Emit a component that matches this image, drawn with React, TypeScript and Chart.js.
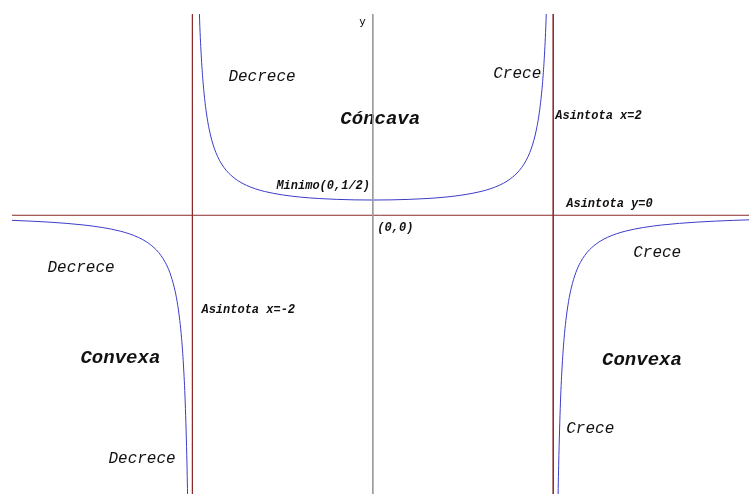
import React, { useEffect, useRef } from "react";
import { Chart, registerables } from "chart.js";

Chart.register(...registerables);

// Central branch (concave), x in (-2, 2)
const centerX = [-1.94, -1.92, -1.9, -1.88, -1.86, -1.84, -1.82, -1.8, -1.77, -1.74, -1.7, -1.65, -1.6, -1.5, -1.4, -1.3, -1.2, -1.0, -0.8, -0.6, -0.4, -0.2, 0, 0.2, 0.4, 0.6, 0.8, 1.0, 1.2, 1.3, 1.4, 1.5, 1.6, 1.65, 1.7, 1.74, 1.77, 1.8, 1.82, 1.84, 1.86, 1.88, 1.9, 1.92, 1.94];
const centerY = [8.46, 6.378, 5.128, 4.296, 3.701, 3.255, 2.909, 2.632, 2.307, 2.057, 1.802, 1.566, 1.389, 1.143, 0.98, 0.866, 0.781, 0.667, 0.595, 0.549, 0.521, 0.505, 0.5, 0.505, 0.521, 0.549, 0.595, 0.667, 0.781, 0.866, 0.98, 1.143, 1.389, 1.566, 1.802, 2.057, 2.307, 2.632, 2.909, 3.255, 3.701, 4.296, 5.128, 6.378, 8.46];

// Left branch (convex), x < -2
const leftX = [-4.0, -3.8, -3.6, -3.4, -3.2, -3.0, -2.9, -2.8, -2.7, -2.6, -2.5, -2.4, -2.35, -2.3, -2.25, -2.2, -2.17, -2.14, -2.12, -2.1, -2.08, -2.06, -2.05, -2.04];
const leftY = [-0.1667, -0.1916, -0.2232, -0.2646, -0.3205, -0.4, -0.4535, -0.5208, -0.6079, -0.7246, -0.8889, -1.136, -1.314, -1.55, -1.882, -2.381, -2.821, -3.451, -4.045, -4.878, -6.127, -8.21, -9.877, -12.38];

// Right branch (convex), x > 2
const rightX = [2.04, 2.05, 2.06, 2.08, 2.1, 2.12, 2.14, 2.17, 2.2, 2.25, 2.3, 2.35, 2.4, 2.5, 2.6, 2.7, 2.8, 2.9, 3.0, 3.2, 3.4, 3.6, 3.8, 4.0, 4.2];
const rightY = [-12.38, -9.877, -8.21, -6.127, -4.878, -4.045, -3.451, -2.821, -2.381, -1.882, -1.55, -1.314, -1.136, -0.8889, -0.7246, -0.6079, -0.5208, -0.4535, -0.4, -0.3205, -0.2646, -0.2232, -0.1916, -0.1667, -0.1466];

// Axis range
const xMin = -4;
const xMax = 4.17;
const yMin = -9.14;
const yMax = 6.6;

// Asymptotes
const verticalAsymptotes = [-2, 2];
const horizontalAsymptote = 0;

// Annotation texts
const labelTexts = ["y", "Decrece", "Crece", "Cóncava", "Asintota x=2", "Minimo(0,1/2)", "(0,0)", "Asintota y=0", "Decrece", "Crece", "Asintota x=-2", "Convexa", "Convexa", "Crece", "Decrece"];
const labelX = [-0.15, -1.601, 1.335, -0.36, 2.022, -1.069, 0.05, 2.144, -3.607, 2.886, -1.9, -3.241, 2.541, 2.144, -2.931];
const labelY = [6.34, 4.534, 4.633, 3.157, 3.256, 0.96, -0.416, 0.37, -1.715, -1.223, -3.12, -4.679, -4.75, -7.0, -7.99];
const labelKind = ["y", "m", "m", "b", "s", "s", "s", "s", "m", "m", "s", "b", "b", "m", "m"];

const fonts: Record<string, string> = {
  y: "11px 'DejaVu Sans', sans-serif",
  m: "italic 16px 'Liberation Mono', monospace",
  b: "italic bold 19px 'Liberation Mono', monospace",
  s: "italic bold 12px 'Liberation Mono', monospace",
};

const toPoints = (xs: number[], ys: number[]) => xs.map((x, i) => ({ x, y: ys[i] }));

const labelsPlugin = {
  id: "textLabels",
  beforeDatasetsDraw(chart: any) {
    const { ctx, scales } = chart;
    ctx.save();
    ctx.fillStyle = "#111";
    ctx.textAlign = "left";
    ctx.textBaseline = "middle";
    labelTexts.forEach((t, i) => {
      ctx.font = fonts[labelKind[i]];
      ctx.fillText(t, scales.x.getPixelForValue(labelX[i]), scales.y.getPixelForValue(labelY[i]));
    });
    ctx.restore();
  },
};

export default function App() {
  const ref = useRef<HTMLCanvasElement>(null);
  useEffect(() => {
    if (!ref.current) return;
    const red = "#8c2b2b";
    const blue = "#3c3cc8";
    const lineDs = (data: any[], color: string) => ({
      data,
      borderColor: color,
      borderWidth: 1,
      pointRadius: 0,
      showLine: true,
      fill: false,
    });
    const chart = new Chart(ref.current, {
      type: "scatter",
      data: {
        datasets: [
          lineDs([{ x: 0, y: yMax }, { x: 0, y: yMin }], "#9a9a9a"),
          lineDs([{ x: xMin, y: horizontalAsymptote }, { x: xMax, y: horizontalAsymptote }], red),
          ...verticalAsymptotes.map((a) => lineDs([{ x: a, y: yMax }, { x: a, y: yMin }], red)),
          { ...lineDs(toPoints(leftX, leftY), blue), cubicInterpolationMode: "monotone" },
          { ...lineDs(toPoints(centerX, centerY), blue), cubicInterpolationMode: "monotone" },
          { ...lineDs(toPoints(rightX, rightY), blue), cubicInterpolationMode: "monotone" },
        ] as any,
      },
      options: {
        animation: false,
        responsive: false,
        layout: { padding: { left: 12, top: 14, right: 0, bottom: 0 } },
        plugins: { legend: { display: false }, tooltip: { enabled: false } },
        scales: {
          x: { type: "linear", min: xMin, max: xMax, display: false },
          y: { type: "linear", min: yMin, max: yMax, display: false },
        },
      },
      plugins: [labelsPlugin],
    });
    return () => chart.destroy();
  }, []);
  return (
    <div style={{ position: "fixed", left: 0, top: 0, width: 749, height: 494, background: "#fff" }}>
      <canvas ref={ref} width={749} height={494} />
    </div>
  );
}
